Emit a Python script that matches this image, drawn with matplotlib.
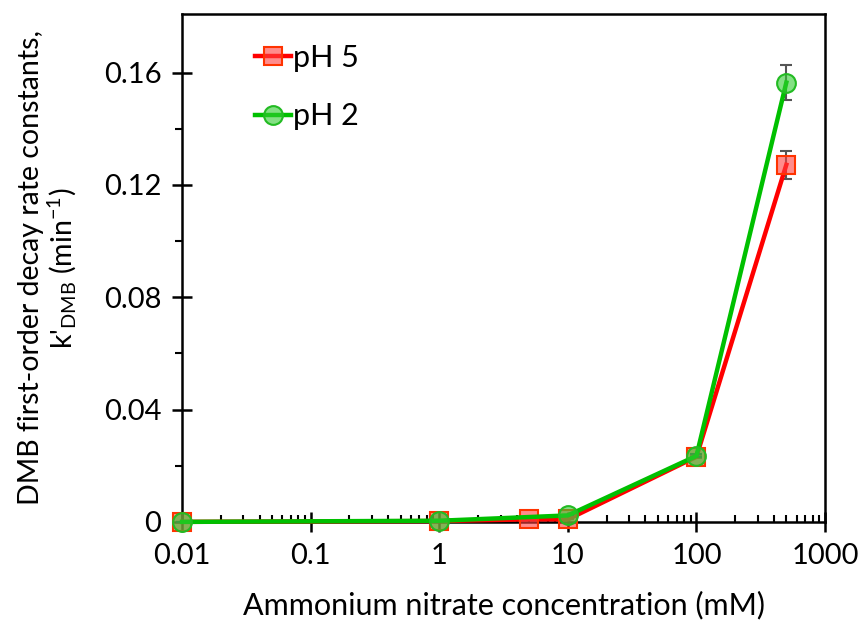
import numpy as np
import matplotlib
matplotlib.use("Agg")
import matplotlib.pyplot as plt
from matplotlib.ticker import FixedLocator, LogLocator, NullFormatter

plt.rcParams['font.family'] = ['Lato', 'DejaVu Sans']
plt.rcParams['mathtext.default'] = 'regular'

# Ammonium nitrate concentration (mM); 0.01 stands in for no added nitrate
conc_ph5 = [0.01, 1, 5, 10, 100, 500]
k_ph5 = [0.0, 0.0003, 0.0009, 0.0009, 0.0232, 0.1272]
err_ph5 = [0, 0, 0, 0, 0.0005, 0.005]

conc_ph2 = [0.01, 1, 10, 100, 500]
k_ph2 = [0.0, 0.0004, 0.0023, 0.0235, 0.1565]
err_ph2 = [0, 0, 0, 0.0005, 0.0062]

x_ticks = [0.01, 0.1, 1, 10, 100, 1000]
x_labels = ['0.01', '0.1', '1', '10', '100', '1000']
y_ticks = [0, 0.04, 0.08, 0.12, 0.16]
y_labels = ['0', '0.04', '0.08', '0.12', '0.16']

fig = plt.figure(figsize=(8.63, 6.25), dpi=100)
ax = fig.add_axes([0.211, 0.165, 0.745, 0.813])

eb5 = ax.errorbar(conc_ph5, k_ph5, yerr=err_ph5, color='#FF0000', lw=3.2,
                  marker='s', ms=12.5, mfc=(1, 0.25, 0.25, 0.6), mec='#FF3300', mew=1.5,
                  ecolor='#555555', elinewidth=1.5, capsize=4, capthick=1.5,
                  clip_on=False, zorder=3)
eb2 = ax.errorbar(conc_ph2, k_ph2, yerr=err_ph2, color='#00C000', lw=3.2,
                  marker='o', ms=13.5, mfc=(0.2, 0.8, 0.2, 0.6), mec='#22BB22', mew=1.5,
                  ecolor='#555555', elinewidth=1.5, capsize=4, capthick=1.5,
                  clip_on=False, zorder=4)

ax.set_xscale('log')
ax.set_xlim(0.01, 1000)
ax.set_ylim(0, 0.181)
ax.set_xticks(x_ticks)
ax.set_xticklabels(x_labels)
ax.xaxis.set_minor_locator(LogLocator(base=10, subs=np.arange(2, 10)))
ax.xaxis.set_minor_formatter(NullFormatter())
ax.set_yticks(y_ticks)
ax.set_yticklabels(y_labels)
ax.yaxis.set_minor_locator(FixedLocator([0.02, 0.06, 0.10, 0.14]))

for s in ax.spines.values():
    s.set_linewidth(1.8)
ax.tick_params(which='major', direction='inout', length=14, width=1.8,
               labelsize=21, pad=8)
ax.tick_params(axis='x', which='minor', direction='in', length=5, width=1.5)
ax.tick_params(axis='y', which='minor', direction='out', length=5, width=1.5)

ax.set_xlabel('Ammonium nitrate concentration (mM)', fontsize=22, labelpad=16)
ax.set_ylabel("DMB first-order decay rate constants,\nk'$_{DMB}$ (min$^{-1}$)",
              fontsize=20.5, labelpad=18, linespacing=1.05)

ax.legend([eb5.lines[0], eb2.lines[0]], ['pH 5', 'pH 2'],
          loc='upper left', bbox_to_anchor=(0.07, 0.995), frameon=False,
          fontsize=22, handlelength=1.2, handletextpad=0.05,
          labelspacing=1.0)

fig.savefig('out.png', dpi=100)
